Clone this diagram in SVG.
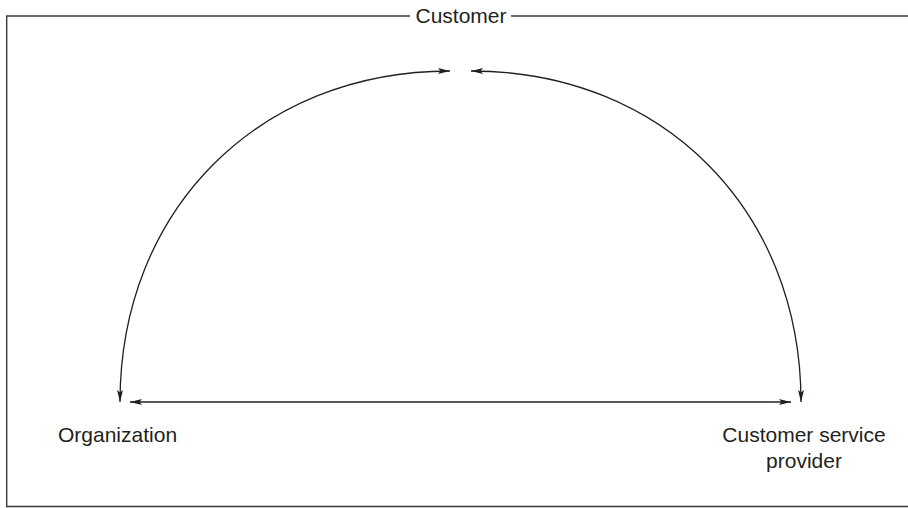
<svg xmlns="http://www.w3.org/2000/svg" width="908" height="508" viewBox="0 0 908 508">
  <style>
    .lbl { font-family: "Liberation Sans", Arial, sans-serif; font-size: 21px; fill: #231f20; }
    .frame { fill: none; stroke: #3a3a3a; stroke-width: 1.4; }
    .conn { fill: none; stroke: #231f20; stroke-width: 1.3; }
  </style>
  <defs>
    <marker id="ah" viewBox="0 0 12 6" refX="12" refY="3" markerWidth="12" markerHeight="6" markerUnits="userSpaceOnUse" orient="auto-start-reverse">
      <path d="M0,0 L12,3 L0,6 L2.5,3 Z" fill="#231f20"/>
    </marker>
  </defs>
  <rect width="908" height="508" fill="#ffffff"/>
  <g id="customer">
    <path class="frame" d="M410,16 H6.7 V506.5 H908 M511,16 H908"/>
    <text class="lbl" x="461" y="23" text-anchor="middle">Customer</text>
  </g>
  <g id="organization">
    <text class="lbl" x="58" y="442">Organization</text>
  </g>
  <g id="customer-service-provider">
    <text class="lbl" x="804" y="442" text-anchor="middle">Customer service</text>
    <text class="lbl" x="804" y="468" text-anchor="middle">provider</text>
  </g>
  <g id="connectors">
    <path class="conn" d="M120,402 C120,210 258.6,71 450,71" marker-start="url(#ah)" marker-end="url(#ah)"/>
    <path class="conn" d="M471,71 C662.4,71 801,210 801,402" marker-start="url(#ah)" marker-end="url(#ah)"/>
    <path class="conn" d="M130,402 H791" marker-start="url(#ah)" marker-end="url(#ah)"/>
  </g>
</svg>
